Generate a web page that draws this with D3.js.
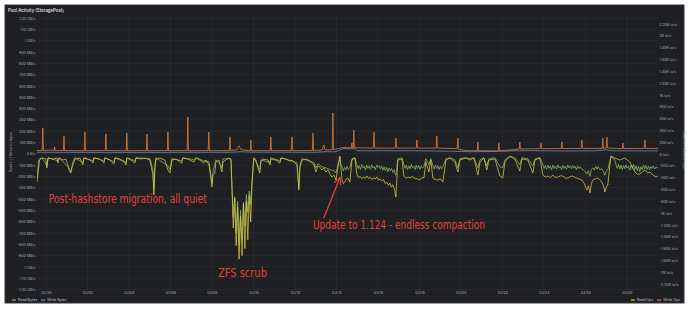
<!DOCTYPE html>
<html><head><meta charset="utf-8">
<script src="https://cdn.jsdelivr.net/npm/d3@7"></script>
<style>html,body{margin:0;padding:0;background:#fff;} svg{display:block;}</style>
</head><body>
<svg id="c" width="690" height="309"></svg>
<script>
// ---- data (time = days since 2025-02-28 00:00) ----
const title = "Pool Activity (StoragePool)";
const xTickLabels = ["02/28","03/02","03/04","03/06","03/08","03/10","03/12","03/14","03/16","03/18","03/20","03/22","03/24","03/26","03/28"];
const leftTickValues = [1200,1100,1000,900,800,700,600,500,400,300,200,100,0,-100,-200,-300,-400,-500,-600,-700,-800,-900,-1000,-1100,-1200];
const leftTickLabels = ["1.20 GB/s","1.10 GB/s","1 GB/s","900 MB/s","800 MB/s","700 MB/s","600 MB/s","500 MB/s","400 MB/s","300 MB/s","200 MB/s","100 MB/s","0 B/s","-100 MB/s","-200 MB/s","-300 MB/s","-400 MB/s","-500 MB/s","-600 MB/s","-700 MB/s","-800 MB/s","-900 MB/s","-1 GB/s","-1.10 GB/s","-1.20 GB/s"];
const rightTickValues = [2200,2000,1800,1600,1400,1200,1000,800,600,400,200,0,-200,-400,-600,-800,-1000,-1200,-1400,-1600,-1800,-2000,-2200];
const rightTickLabels = ["2.20K io/s","2K io/s","1.80K io/s","1.60K io/s","1.40K io/s","1.20K io/s","1K io/s","800 io/s","600 io/s","400 io/s","200 io/s","0 io/s","-200 io/s","-400 io/s","-600 io/s","-800 io/s","-1K io/s","-1.20K io/s","-1.40K io/s","-1.60K io/s","-1.80K io/s","-2K io/s","-2.20K io/s"];
const leftAxisTitle = "Read (-) / Write (+) bytes";
const rightAxisTitle = "Read (-) / Write (+) ops";

// Read Bytes, MB/s (negative = read)
const readBytes = [[-0.43,-212],[-0.35,-53],[-0.2,-35],[0.05,-106],[0.1,-35],[0.58,-62],[0.63,-35],[1.11,-124],[1.2,-159],[1.3,-71],[1.4,-35],[1.78,-79],[1.83,-35],[2.27,-62],[2.31,-35],[2.8,-62],[2.84,-35],[3.28,-71],[3.33,-35],[3.86,-79],[3.9,-35],[4.29,-62],[4.34,-35],[5.01,-44],[5.16,-141],[5.2,-318],[5.25,-106],[5.3,-35],[5.88,-106],[5.98,-141],[6.07,-44],[6.55,-62],[6.6,-35],[7.13,-53],[7.23,-35],[7.61,-62],[7.86,-71],[7.95,-185],[8.0,-265],[8.05,-159],[8.19,-53],[8.43,-97],[8.48,-124],[8.53,-44],[8.92,-44],
[8.97,-300],[9.03,-560],[9.1,-380],[9.17,-700],[9.24,-420],[9.31,-800],[9.38,-500],[9.45,-760],[9.52,-430],[9.59,-640],[9.66,-360],[9.73,-520],[9.8,-330],[9.87,-450],[9.93,-250],[9.98,-120],[10.02,-35],
[10.22,-106],[10.31,-141],[10.36,-53],[10.8,-79],[10.84,-35],[11.28,-62],[11.33,-35],[12.1,-79],[12.19,-300],[12.24,-106],[12.34,-44],[12.92,-79],[13.01,-124],[13.11,-88],[13.3,-115],[13.49,-124],[13.69,-141],[13.88,-150],[13.98,-170],[14.07,-100],[14.17,-30],
[14.2,-90],[14.27,-115],[14.33,-150],[14.39,-120],[14.45,-145],[14.51,-110],[14.57,-138],[14.65,-124],[14.75,-44],[14.89,-35],
[14.99,-97],[15.05,-130],[15.1,-105],[15.16,-140],[15.22,-95],[15.28,-125],[15.34,-110],[15.4,-145],[15.46,-100],[15.52,-128],[15.58,-108],[15.64,-138],[15.7,-98],[15.76,-126],[15.82,-112],[15.88,-142],[15.94,-100],[16.0,-120],[16.06,-105],[16.12,-135],[16.18,-110],[16.24,-145],[16.3,-115],[16.36,-150],[16.42,-120],[16.48,-160],[16.54,-125],[16.6,-150],[16.66,-130],[16.72,-165],[16.78,-140],[16.84,-185],[16.87,-190],[16.96,-44],[17.16,-35],
[17.25,-97],[17.31,-128],[17.37,-100],[17.43,-140],[17.49,-108],[17.55,-132],[17.61,-95],[17.67,-125],[17.73,-110],[17.79,-140],[17.85,-100],[17.91,-130],[17.97,-105],[18.03,-138],[18.09,-110],[18.15,-128],[18.22,-115],[18.31,-44],[18.46,-97],[18.55,-44],
[18.65,-106],[18.71,-135],[18.77,-100],[18.83,-130],[18.89,-105],[18.95,-140],[19.01,-110],[19.07,-132],[19.13,-115],[19.28,-44],[19.47,-35],[19.71,-53],[19.86,-124],[19.95,-44],[20.24,-35],[20.43,-44],[20.63,-35],[20.82,-124],[20.92,-53],[21.11,-35],[21.25,-106],[21.35,-44],[21.64,-35],[21.88,-115],[22.02,-124],[22.12,-53],[22.36,-26],[22.6,-35],[22.84,-97],[22.94,-35],[23.23,-44],[23.47,-106],[23.57,-44],[23.81,-35],
[23.95,-97],[24.01,-130],[24.07,-105],[24.13,-138],[24.19,-100],[24.25,-128],[24.31,-108],[24.37,-142],[24.43,-100],[24.49,-130],[24.55,-110],[24.61,-136],[24.67,-98],[24.73,-126],[24.79,-112],[24.85,-140],[24.91,-104],[24.97,-130],[25.03,-110],[25.09,-136],[25.15,-100],[25.21,-125],[25.27,-108],[25.33,-132],[25.39,-104],[25.45,-128],[25.51,-112],[25.57,-140],[25.63,-110],[25.69,-130],[25.75,-115],[25.83,-135],[25.95,-150],[26.07,-180],[26.14,-150],[26.22,-200],[26.29,-140],[26.36,-124],[26.43,-145],[26.5,-110],[26.56,-138],[26.62,-115],[26.7,-140],[26.8,-132],[26.87,-160],[26.94,-190],[27.01,-150],[27.08,-141],[27.23,-26],
[27.42,-53],[27.48,-100],[27.54,-130],[27.6,-95],[27.66,-135],[27.72,-100],[27.78,-140],[27.84,-105],[27.9,-132],[27.96,-98],[28.02,-128],[28.08,-110],[28.14,-145],[28.2,-100],[28.26,-130],[28.32,-95],[28.38,-138],[28.44,-106],[28.5,-150],[28.56,-110],[28.62,-160],[28.68,-115],[28.74,-140],[28.8,-100],[28.86,-132],[28.92,-105],[28.98,-138],[29.04,-110],[29.1,-140],[29.16,-112],[29.22,-130],[29.28,-108],[29.34,-135],[29.4,-118],[29.5,-125]];

// Write Bytes, MB/s
const writeBytes = [[-0.43,13],[2,12],[5,12],[8.9,13],[9.4,18],[10,14],[13,13],[13.5,18],[13.9,17],[14.1,26],[14.3,44],[14.9,44],[15.0,26],[16,27],[18,26],[19.5,22],[20.5,18],[21.5,20],[22.6,26],[23.5,27],[25,24],[26.5,26],[27.0,35],[27.2,26],[29.5,25]];

// Read Ops, io/s (negative = read)
const readOps = [[-0.43,-475],[-0.39,-356],[-0.31,-102],[-0.19,-68],[0,-85],[0.05,-237],[0.1,-68],[0.34,-85],[0.53,-68],[0.58,-153],[0.63,-68],[0.82,-102],[0.96,-85],[1.06,-186],[1.11,-271],[1.2,-322],[1.25,-237],[1.3,-186],[1.4,-85],[1.64,-68],[1.78,-186],[1.83,-68],[2.12,-102],[2.27,-153],[2.31,-68],[2.6,-85],[2.8,-153],[2.84,-68],[3.08,-102],[3.28,-170],[3.33,-68],[3.57,-85],[3.76,-119],[3.86,-186],[3.9,-68],[4.1,-102],[4.29,-153],[4.34,-68],[4.58,-85],[4.77,-68],[5.01,-102],[5.16,-356],[5.2,-695],[5.25,-271],[5.3,-85],[5.49,-68],[5.73,-102],[5.88,-271],[5.98,-322],[6.07,-102],[6.27,-85],[6.55,-153],[6.6,-68],[6.84,-85],[7.13,-136],[7.23,-68],[7.42,-102],[7.61,-153],[7.71,-102],[7.86,-186],[7.95,-407],[8.0,-559],[8.05,-356],[8.14,-322],[8.19,-136],[8.34,-102],[8.43,-237],[8.48,-305],[8.53,-136],[8.67,-102],[8.82,-68],[8.92,-102],
[8.97,-600],[9.03,-1250],[9.1,-750],[9.17,-1550],[9.24,-900],[9.31,-1780],[9.38,-1050],[9.45,-1720],[9.52,-850],[9.59,-1600],[9.66,-800],[9.73,-1450],[9.8,-700],[9.87,-1150],[9.93,-520],[9.98,-271],[10.02,-68],
[10.12,-102],[10.22,-237],[10.31,-322],[10.36,-136],[10.46,-85],[10.7,-102],[10.8,-186],[10.84,-85],[11.08,-102],[11.28,-153],[11.33,-68],[11.57,-85],[11.76,-119],[11.86,-102],[12.1,-186],[12.19,-610],[12.24,-237],[12.34,-102],[12.58,-85],[12.72,-119],[12.92,-186],[13.01,-305],[13.11,-203],[13.2,-220],[13.3,-271],[13.4,-237],[13.49,-305],[13.59,-271],[13.69,-339],[13.78,-390],[13.88,-356],[13.98,-441],[14.07,-237],[14.17,-34],
[14.27,-441],[14.34,-500],[14.41,-470],[14.48,-420],[14.55,-407],[14.65,-475],[14.75,-102],[14.89,-68],
[14.99,-356],[15.07,-400],[15.15,-380],[15.23,-420],[15.31,-390],[15.39,-410],[15.47,-373],[15.55,-415],[15.63,-395],[15.71,-430],[15.79,-400],[15.87,-425],[15.95,-390],[16.03,-440],[16.11,-420],[16.19,-455],[16.27,-430],[16.35,-500],[16.43,-480],[16.51,-530],[16.58,-492],[16.65,-560],[16.72,-520],[16.8,-600],[16.87,-729],[16.96,-102],[17.16,-85],
[17.25,-373],[17.35,-410],[17.45,-390],[17.54,-407],[17.64,-380],[17.78,-410],[17.9,-420],[18.02,-441],[18.12,-400],[18.22,-407],[18.31,-136],[18.46,-305],[18.55,-102],
[18.65,-407],[18.77,-430],[18.89,-441],[19.01,-420],[19.13,-475],[19.28,-102],[19.47,-68],[19.71,-136],[19.86,-305],[19.95,-102],[20.24,-68],[20.43,-102],[20.63,-68],[20.82,-356],[20.92,-136],[21.11,-68],[21.25,-271],[21.35,-102],[21.64,-85],[21.88,-373],[22.02,-407],[22.12,-136],[22.36,-34],[22.6,-85],[22.84,-288],[22.94,-85],[23.23,-102],[23.47,-322],[23.57,-102],[23.81,-68],
[23.95,-356],[24.07,-390],[24.19,-373],[24.31,-400],[24.43,-356],[24.55,-395],[24.67,-390],[24.8,-370],[24.92,-373],[25.04,-410],[25.16,-407],[25.28,-380],[25.4,-373],[25.5,-400],[25.59,-407],[25.7,-420],[25.83,-441],[25.95,-500],[26.07,-610],[26.15,-540],[26.22,-661],[26.29,-500],[26.36,-441],[26.48,-420],[26.6,-407],[26.7,-440],[26.8,-475],[26.87,-540],[26.94,-644],[27.01,-560],[27.08,-525],[27.23,-34],[27.42,-68],[27.66,-102],[27.9,-68],[28.14,-136],
[28.39,-305],[28.5,-340],[28.63,-339],[28.75,-300],[28.87,-271],[29.0,-320],[29.11,-305],[29.25,-356],[29.4,-390],[29.5,-370]];

// Write Ops, io/s
const writeOps = [[-0.43,60],[-0.18,60],[-0.15,441],[-0.12,60],[0.4,65],[0.42,120],[0.44,60],[0.84,58],[0.87,305],[0.9,58],[1.85,55],[1.88,373],[1.91,55],[2.86,58],[2.89,339],[2.92,58],[3.87,55],[3.9,356],[3.93,55],[4.84,58],[4.87,339],[4.9,55],[5.85,58],[5.88,373],[5.91,55],[6.81,58],[6.84,627],[6.87,55],[7.82,58],[7.85,373],[7.88,55],[8.84,58],[8.87,288],[8.9,60],[9.2,70],[9.3,140],[9.4,75],[9.6,65],[9.85,58],[9.88,237],[9.91,55],[10.81,58],[10.84,288],[10.87,55],[11.82,58],[11.86,288],[11.89,55],[12.84,60],[12.87,356],[12.9,60],[13.3,65],[13.4,150],[13.45,70],[13.8,70],[13.83,695],[13.86,75],[14.1,90],[14.3,110],[14.72,105],[14.75,186],[14.78,105],[14.81,105],[14.84,407],[14.87,105],[15.78,100],[15.81,373],[15.84,100],[16.84,100],[16.87,271],[16.9,100],[17.85,100],[17.88,237],[17.91,100],[18.81,100],[18.84,305],[18.87,100],[19.82,90],[19.86,271],[19.89,80],[20.3,55],[20.79,55],[20.82,203],[20.85,55],[21.8,52],[21.83,186],[21.86,52],[22.5,70],[22.81,85],[22.84,203],[22.87,85],[23.82,90],[23.86,186],[23.89,90],[24.84,92],[24.87,203],[24.9,92],[25.8,95],[25.83,237],[25.86,95],[26.81,95],[26.84,271],[26.87,95],[27.0,100],[27.04,288],[27.07,100],[27.78,92],[27.81,186],[27.84,92],[28.84,95],[28.87,237],[28.9,95],[29.5,95]];

// hand-written annotations: [day, MB/s] anchors
const notes = [
  {text:"Post-hashstore migration, all quiet", d:0.14, v:-433, width:158},
  {text:"ZFS scrub", d:8.29, v:-1086, width:49},
  {text:"Update to 1.124 - endless compaction", d:12.87, v:-662, width:172}
];
const arrow = {from:[13.40,-565], to:[14.17,-212]};

const startDay = -0.43, endDay = 29.5;

// ---- drawing ----
const svg = d3.select("#c");
const plot = {l:37, r:658, t:15, b:292};
const day0 = Date.UTC(2025,1,28);
const toDate = d => new Date(day0 + d*864e5);

svg.append("rect").attr("x",5).attr("y",5).attr("width",679).attr("height",298)
  .attr("fill","#1f2024").attr("stroke","#34353a").attr("stroke-width",1);

svg.append("text").attr("x",8).attr("y",11.5).text(title)
  .attr("fill","#d8d9de").attr("font-family","Inter, sans-serif").attr("font-size",4.3).attr("font-weight",600);

const x = d3.scaleUtc().domain([toDate(startDay), toDate(endDay)]).range([plot.l, plot.r]);
const yL = d3.scaleLinear().domain([-1200,1200]).range([289.5,18]);
const yR = d3.scaleLinear().domain([-2200,2200]).range([284,24]);

const xTickDates = xTickLabels.map(s => { const [m,dd] = s.split("/").map(Number); return new Date(Date.UTC(2025,m-1,dd)); });

// grid
const grid = svg.append("g");
grid.selectAll("line.h").data(leftTickValues).join("line")
  .attr("x1",plot.l).attr("x2",plot.r).attr("y1",d=>yL(d)).attr("y2",d=>yL(d))
  .attr("stroke","#ffffff").attr("stroke-opacity",0.07).attr("stroke-width",0.6);
grid.selectAll("line.v").data(xTickDates).join("line")
  .attr("x1",d=>x(d)).attr("x2",d=>x(d)).attr("y1",plot.t).attr("y2",plot.b-2)
  .attr("stroke","#ffffff").attr("stroke-opacity",0.07).attr("stroke-width",0.6);

// axes
const axisFont = "Inter, sans-serif";
const ax = d3.axisLeft(yL).tickValues(leftTickValues).tickFormat((d,i)=>leftTickLabels[i]).tickSize(0).tickPadding(1);
const gL = svg.append("g").attr("transform",`translate(${plot.l-0.5},0)`).call(ax);
const ar = d3.axisRight(yR).tickValues(rightTickValues).tickFormat((d,i)=>rightTickLabels[i]).tickSize(0).tickPadding(1);
const gR = svg.append("g").attr("transform",`translate(${plot.r+0.5},0)`).call(ar);
const ab = d3.axisBottom(x).tickValues(xTickDates).tickFormat((d,i)=>xTickLabels[i]).tickSize(0).tickPadding(0);
const gB = svg.append("g").attr("transform",`translate(0,${291})`).call(ab);
[gL,gR,gB].forEach(g=>{
  g.select(".domain").remove();
  g.selectAll("text").attr("fill","#a9abb3").attr("font-family",axisFont).attr("font-size",3.6);
});

svg.append("text").attr("transform",`translate(12,152) rotate(-90)`).attr("text-anchor","middle")
  .text(leftAxisTitle).attr("fill","#a9abb3").attr("font-family",axisFont).attr("font-size",3.4);
svg.append("text").attr("transform",`translate(683,150) rotate(90)`).attr("text-anchor","middle")
  .text(rightAxisTitle).attr("fill","#a9abb3").attr("font-family",axisFont).attr("font-size",3.4);

// clip
svg.append("clipPath").attr("id","clip").append("rect")
  .attr("x",plot.l).attr("y",plot.t).attr("width",plot.r-plot.l).attr("height",plot.b-plot.t);

const series = [
  {name:"Read Bytes", data:readBytes, y:yL, color:"#8db665"},
  {name:"Write Bytes", data:writeBytes, y:yL, color:"#6d8fdc"},
  {name:"Read Ops", data:readOps, y:yR, color:"#d9c83c"},
  {name:"Write Ops", data:writeOps, y:yR, color:"#e4823a"}
];
const lines = svg.append("g").attr("clip-path","url(#clip)");
series.forEach(s=>{
  const line = d3.line().x(p=>x(toDate(p[0]))).y(p=>s.y(p[1]));
  lines.append("path").attr("d",line(s.data)).attr("fill","none")
    .attr("stroke",s.color).attr("stroke-width",0.8).attr("stroke-opacity",0.95).attr("stroke-linejoin","round");
});

// legends
function legend(items, y0, xStart, xEnd) {
  const g = svg.append("g");
  let cx = 0;
  items.forEach(s=>{
    g.append("line").attr("x1",cx).attr("x2",cx+4).attr("y1",y0).attr("y2",y0)
      .attr("stroke",s.color).attr("stroke-width",1.2);
    const t = g.append("text").attr("x",cx+6).attr("y",y0+1.3).text(s.name)
      .attr("fill","#c2c3c8").attr("font-family",axisFont).attr("font-size",3.6);
    cx += 6 + t.node().getComputedTextLength() + 4;
  });
  const w = cx - 4;
  const tx = xStart != null ? xStart : xEnd - w;
  g.attr("transform",`translate(${tx},0)`);
}
legend(series.slice(0,2), 300, 12, null);
legend(series.slice(2,4), 300, null, 680);

// annotations
const noteFont = "'Liberation Sans Narrow','DejaVu Sans Condensed','DejaVu Sans', sans-serif";
notes.forEach(n=>{
  svg.append("text").attr("x",x(toDate(n.d))).attr("y",yL(n.v)).text(n.text)
    .attr("fill","#e2403c").attr("font-family",noteFont).attr("font-size",12)
    .attr("textLength",n.width).attr("lengthAdjust","spacingAndGlyphs");
});
const ax1 = x(toDate(arrow.from[0])), ay1 = yL(arrow.from[1]);
const ax2 = x(toDate(arrow.to[0])), ay2 = yL(arrow.to[1]);
svg.append("line").attr("x1",ax1).attr("y1",ay1).attr("x2",ax2).attr("y2",ay2)
  .attr("stroke","#e2403c").attr("stroke-width",1.3).attr("stroke-linecap","round");
const ang = Math.atan2(ay2-ay1, ax2-ax1);
[0.5,-0.5].forEach(da=>{
  svg.append("line").attr("x1",ax2).attr("y1",ay2)
    .attr("x2",ax2-7*Math.cos(ang+da)).attr("y2",ay2-7*Math.sin(ang+da))
    .attr("stroke","#e2403c").attr("stroke-width",1.3).attr("stroke-linecap","round");
});
</script>
</body></html>
